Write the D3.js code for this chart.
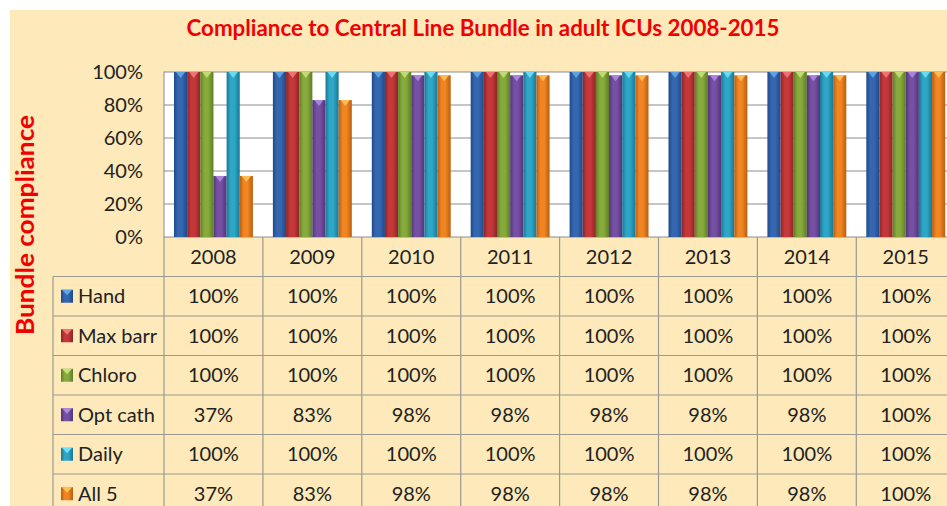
<!DOCTYPE html>
<html>
<head>
<meta charset="utf-8">
<script src="https://cdn.jsdelivr.net/npm/d3@7"></script>
<style>
  html, body { margin: 0; padding: 0; background: #fff; }
  svg { display: block; }
</style>
</head>
<body>
<svg id="chart"></svg>
<script>
// -- DATA --
const years = ["2008", "2009", "2010", "2011", "2012", "2013", "2014", "2015"];
const seriesNames = ["Hand", "Max barr", "Chloro", "Opt cath", "Daily", "All 5"];
const hand = [100, 100, 100, 100, 100, 100, 100, 100];
const maxBarr = [100, 100, 100, 100, 100, 100, 100, 100];
const chloro = [100, 100, 100, 100, 100, 100, 100, 100];
const optCath = [37, 83, 98, 98, 98, 98, 98, 100];
const daily = [100, 100, 100, 100, 100, 100, 100, 100];
const all5 = [37, 83, 98, 98, 98, 98, 98, 100];
const yTicks = [0, 20, 40, 60, 80, 100];

const seriesValues = [hand, maxBarr, chloro, optCath, daily, all5];
// base, dark edge, light top
const palette = [
  ["#3567b0", "#1f4a8a", "#5fa8e8"],
  ["#c4383a", "#8f2426", "#f07a7a"],
  ["#86ab3c", "#5f7e26", "#c4e07a"],
  ["#7550a3", "#51357a", "#b08ae0"],
  ["#2ea6c6", "#1a7894", "#6fe0f5"],
  ["#f08522", "#b85e10", "#ffc05a"]
];

const W = 947, H = 506;
const plot = { left: 164, top: 72, bottom: 237 };
const colW = 98.9;
const rowH = 39.5;
const tableLeft = 53;
const font = "Lato, 'Open Sans', sans-serif";

const svg = d3.select("#chart").attr("width", W).attr("height", H);

// background panel
svg.append("rect").attr("x", 10).attr("y", 10).attr("width", W - 10).attr("height", H - 10)
  .attr("fill", "#fde9b9");

// gradients for bars
const defs = svg.append("defs");
palette.forEach((c, i) => {
  const g = defs.append("linearGradient").attr("id", "grad" + i)
    .attr("x1", "0%").attr("x2", "100%").attr("y1", "0%").attr("y2", "0%");
  g.append("stop").attr("offset", "0%").attr("stop-color", c[1]);
  g.append("stop").attr("offset", "30%").attr("stop-color", c[0]);
  g.append("stop").attr("offset", "60%").attr("stop-color", c[0]);
  g.append("stop").attr("offset", "100%").attr("stop-color", c[1]);
});

// Scales
const x = d3.scaleBand().domain(years).range([plot.left, plot.left + colW * years.length]);
const xs = d3.scaleBand().domain(seriesNames).range([10, colW - 10]);
const y = d3.scaleLinear().domain([0, 100]).range([plot.bottom, plot.top]);
const plotRight = plot.left + colW * years.length;

// plot area
svg.append("rect").attr("x", plot.left).attr("y", plot.top)
  .attr("width", plotRight - plot.left).attr("height", plot.bottom - plot.top)
  .attr("fill", "#fff").attr("stroke", "#8c8c8c");

svg.append("g").selectAll("line").data(yTicks.slice(1, -1)).enter().append("line")
  .attr("x1", plot.left).attr("x2", plotRight)
  .attr("y1", d => y(d)).attr("y2", d => y(d))
  .attr("stroke", "#8c8c8c").attr("stroke-width", 1);

// y axis
const yAxis = svg.append("g").attr("transform", `translate(${plot.left},0)`)
  .call(d3.axisLeft(y).tickValues(yTicks).tickSize(0).tickPadding(21).tickFormat(d => d + "%"));
yAxis.select(".domain").remove();
yAxis.selectAll("text").attr("font-family", font).attr("font-size", 20).attr("fill", "#222");

// bars
const bars = [];
years.forEach((yr, j) => {
  seriesNames.forEach((s, i) => {
    bars.push({ year: yr, series: s, idx: i, value: seriesValues[i][j] });
  });
});
const barG = svg.append("g").selectAll("g").data(bars).enter().append("g");
barG.append("rect")
  .attr("x", d => x(d.year) + xs(d.series))
  .attr("y", d => y(d.value))
  .attr("width", xs.bandwidth())
  .attr("height", d => plot.bottom - y(d.value))
  .attr("fill", d => `url(#grad${d.idx})`);
barG.append("path")
  .attr("d", d => {
    const x0 = x(d.year) + xs(d.series), w = xs.bandwidth(), t = y(d.value);
    return `M${x0 + 2},${t}L${x0 + w - 2},${t}L${x0 + w / 2},${t + 6}Z`;
  })
  .attr("fill", d => palette[d.idx][2]).attr("opacity", 0.9);

// table
const tbl = svg.append("g");
const lineColor = "#9a9a90";
const tableBottom = plot.bottom + rowH * (seriesNames.length + 1);
// horizontal lines
d3.range(seriesNames.length + 1).forEach(r => {
  const yy = plot.bottom + rowH * (r + 1);
  tbl.append("line").attr("x1", tableLeft).attr("x2", plotRight)
    .attr("y1", yy).attr("y2", yy).attr("stroke", lineColor).attr("stroke-width", 1.2);
});
// vertical lines
years.concat(["end"]).forEach((yr, j) => {
  const xx = plot.left + colW * j;
  tbl.append("line").attr("x1", xx).attr("x2", xx)
    .attr("y1", plot.bottom).attr("y2", tableBottom)
    .attr("stroke", lineColor).attr("stroke-width", 1.2);
});
tbl.append("line").attr("x1", tableLeft).attr("x2", tableLeft)
  .attr("y1", plot.bottom + rowH).attr("y2", tableBottom)
  .attr("stroke", lineColor).attr("stroke-width", 1.2);

// header years
tbl.selectAll("text.year").data(years).enter().append("text")
  .attr("x", d => x(d) + x.bandwidth() / 2)
  .attr("y", plot.bottom + rowH / 2)
  .attr("dy", "0.35em").attr("text-anchor", "middle")
  .attr("font-family", font).attr("font-size", 20).attr("fill", "#222")
  .text(d => d);

// legend column + values
seriesNames.forEach((s, i) => {
  const cy = plot.bottom + rowH * (i + 1.5);
  tbl.append("rect").attr("x", 61).attr("y", cy - 6.5).attr("width", 12).attr("height", 13)
    .attr("fill", `url(#grad${i})`);
  tbl.append("path").attr("d", `M62,${cy - 6.5}L72,${cy - 6.5}L67,${cy - 1}Z`)
    .attr("fill", palette[i][2]);
  tbl.append("text").attr("x", 78).attr("y", cy).attr("dy", "0.35em")
    .attr("font-family", font).attr("font-size", 20).attr("fill", "#222").text(s);
  tbl.selectAll(null).data(seriesValues[i]).enter().append("text")
    .attr("x", (d, j) => x(years[j]) + x.bandwidth() / 2)
    .attr("y", cy).attr("dy", "0.35em").attr("text-anchor", "middle")
    .attr("font-family", font).attr("font-size", 20).attr("fill", "#222")
    .text(d => d + "%");
});

// title
svg.append("text").attr("x", 483).attr("y", 36).attr("text-anchor", "middle")
  .attr("font-family", font).attr("font-weight", "bold").attr("font-size", 23)
  .attr("textLength", 593).attr("lengthAdjust", "spacingAndGlyphs")
  .attr("fill", "#f00000").text("Compliance to Central Line Bundle in adult ICUs 2008-2015");

// y label
svg.append("text").attr("transform", "translate(34,225) rotate(-90)")
  .attr("text-anchor", "middle")
  .attr("font-family", font).attr("font-weight", "bold").attr("font-size", 25)
  .attr("textLength", 220).attr("lengthAdjust", "spacingAndGlyphs")
  .attr("fill", "#f00000").text("Bundle compliance");
</script>
</body>
</html>
